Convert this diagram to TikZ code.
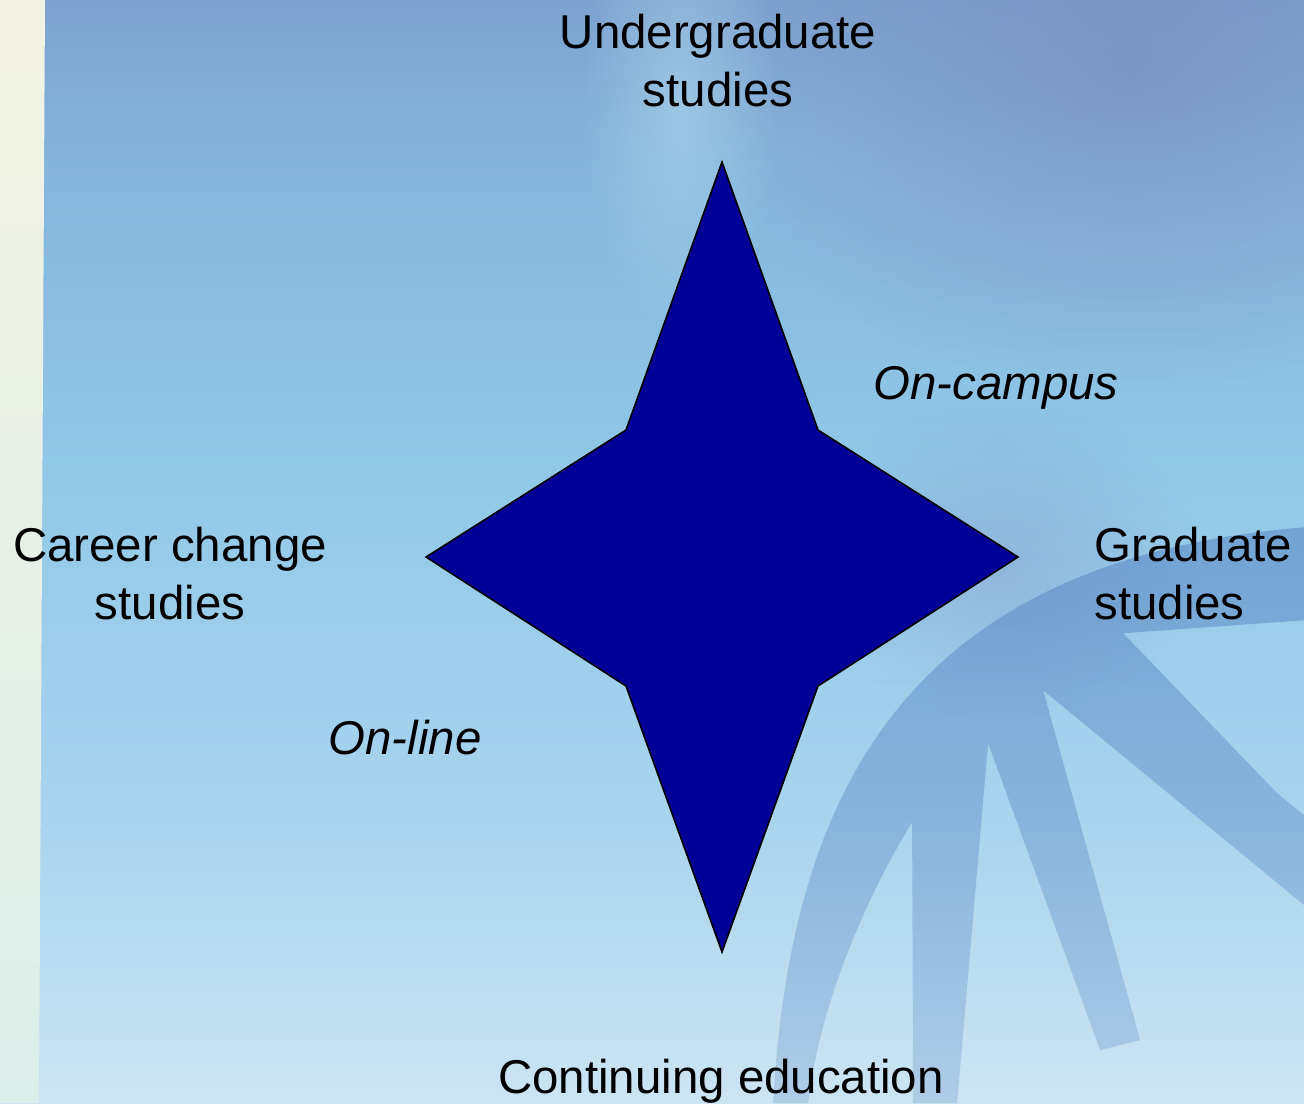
\documentclass[tikz,border=0pt]{standalone}
\usepackage{fontspec}
\setmainfont{Liberation Sans}
\usetikzlibrary{fadings}
\definecolor{StarBlue}{HTML}{000099}
\definecolor{SkyTop}{HTML}{7CA2D0}
\definecolor{SkyHigh}{HTML}{84B4DC}
\definecolor{SkyMid}{HTML}{90C8E8}
\definecolor{SkyLow}{HTML}{A8D4EE}
\definecolor{SkyFoot}{HTML}{CCE4F2}
\definecolor{Haze}{HTML}{7E88BE}
\definecolor{Glow}{HTML}{B0DAEE}
\definecolor{Cream}{HTML}{F2F2E2}
\definecolor{Mint}{HTML}{DCEEEA}
\definecolor{Helix}{HTML}{4F7EC0}
\tikzfading[name=soft glow, inner color=transparent!0, outer color=transparent!100]
\tikzfading[name=helix fade, top color=transparent!0, bottom color=transparent!55]
% sky runs from the foot (25bp) up to the top (75bp) of the shading box
\pgfdeclareverticalshading{skyfade}{100bp}{color(0bp)=(SkyFoot); color(25bp)=(SkyFoot);
    color(38bp)=(SkyLow); color(54bp)=(SkyMid); color(68bp)=(SkyHigh);
    color(75bp)=(SkyTop); color(100bp)=(SkyTop)}

\begin{document}
\begin{tikzpicture}[
    x=0.02cm, y=-0.02cm,
    label/.style={font=\fontsize{27}{33}\selectfont, align=center, inner sep=0pt},
    mode/.style={font=\fontsize{27}{33}\selectfont\itshape, inner sep=0pt},
    helix/.style={fill=Helix, fill opacity=0.5, path fading=helix fade}
]
\useasboundingbox (0,0) rectangle (1304,1103);

% === Background ===
\shade[shading=skyfade] (0,0) rectangle (1304,1103);
\fill[Haze, opacity=0.6, path fading=soft glow] (1130,70) circle [x radius=430, y radius=320];
\fill[Haze, opacity=0.3, path fading=soft glow] (1000,560) circle [x radius=200, y radius=160];
\fill[Glow, opacity=0.55, path fading=soft glow] (680,110) circle [x radius=100, y radius=240];

% pale strip on the left edge
\shade[top color=Cream, bottom color=Mint] (0,0) -- (45,0) -- (39,1103) -- (0,1103) -- cycle;

% helix in the lower right corner
\path[helix]
    (773,1103) .. controls (790,800) and (900,560) .. (1304,527)
    -- (1304,620) -- (1123,633) -- (1277,793) -- (1304,815)
    -- (1304,905) -- (1043,690) -- (1140,1040) -- (1100,1050)
    -- (988,743) -- (957,1103) -- (913,1103) -- (912,822)
    .. controls (870,890) and (820,1000) .. (808,1103) -- cycle;

% === Four-point star ===
\filldraw[fill=StarBlue, draw=black, line width=0.9pt, line join=miter]
    (722,162) -- (818,430) -- (1018,557) -- (818,686) -- (722,952)
    -- (626,686) -- (426,557) -- (626,430) -- cycle;

% === Labels ===
\node[label] (under) at (718,61) {Undergraduate\\studies};
\node[label] (career) at (170,574) {Career change\\studies};
\node[label, align=left, anchor=west] (grad) at (1094,574) {Graduate\\studies};
\node[label] (cont) at (721,1081) {Continuing education};
\node[mode] (campus) at (996,388) {On-campus};
\node[mode] (online) at (405,738) {On-line};

\end{tikzpicture}
\end{document}
